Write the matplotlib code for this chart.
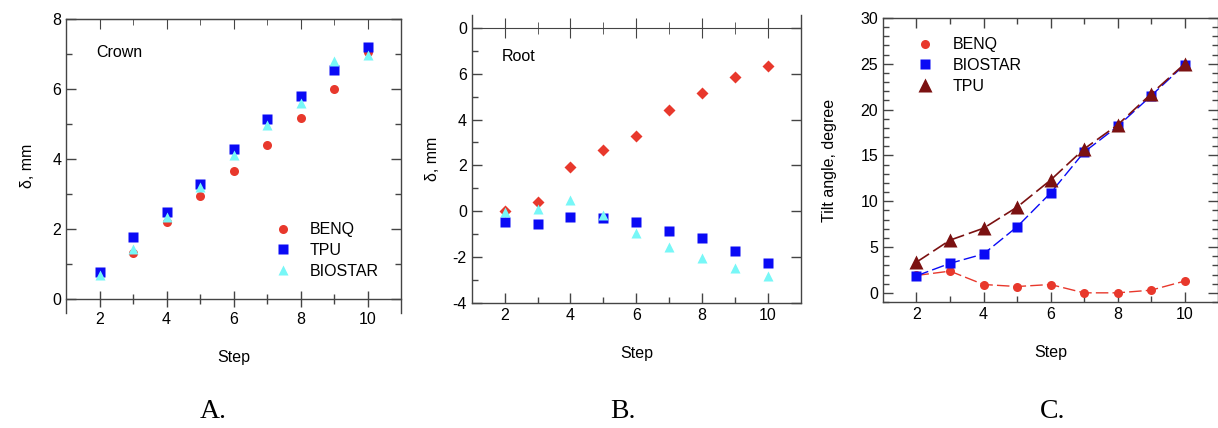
import matplotlib.pyplot as plt
import numpy as np
from matplotlib.ticker import MultipleLocator, FixedLocator

plt.rcParams['font.family'] = ['Liberation Sans', 'DejaVu Sans']

steps = [2, 3, 4, 5, 6, 7, 8, 9, 10]

# A. Crown
crown_benq = [0.72, 1.32, 2.18, 2.94, 3.65, 4.41, 5.17, 6.00, 7.05]
crown_tpu = [0.76, 1.75, 2.48, 3.29, 4.28, 5.13, 5.80, 6.53, 7.20]
crown_biostar = [0.69, 1.43, 2.34, 3.18, 4.12, 4.98, 5.61, 6.81, 6.97]

# B. Root
root_benq = [0.00, 0.42, 1.94, 2.66, 3.30, 4.44, 5.18, 5.84, 6.35]
root_tpu = [-0.47, -0.55, -0.26, -0.28, -0.48, -0.86, -1.19, -1.76, -2.26]
root_biostar = [-0.04, 0.10, 0.48, -0.17, -0.95, -1.56, -2.05, -2.47, -2.84]

# C. Tilt angle
tilt_benq = [1.90, 2.37, 0.91, 0.69, 0.91, 0.00, 0.00, 0.29, 1.28]
tilt_biostar = [1.86, 3.22, 4.24, 7.20, 10.89, 15.35, 18.16, 21.50, 24.90]
tilt_tpu = [3.35, 5.75, 7.05, 9.35, 12.30, 15.70, 18.32, 21.70, 24.98]

RED = '#e8382c'
BLUE = '#0a0af5'
CYAN = '#77f7f7'
DARK = '#7b1111'
SPINE = '#444444'
FS = 11.5

fig = plt.figure(figsize=(12.18, 4.28), dpi=100)
W, H = 1218, 428


def add_ax(l, t, r, b):
    return fig.add_axes([l / W, 1 - b / H, (r - l) / W, (b - t) / H])


def style(ax):
    for s in ax.spines.values():
        s.set_color(SPINE)
        s.set_linewidth(1.0)
    ax.tick_params(which='both', direction='in', top=True, right=True,
                   color=SPINE, labelsize=FS, width=1.0)
    ax.tick_params(which='major', length=7)
    ax.tick_params(which='minor', length=4)
    ax.set_xlim(1, 11)
    ax.xaxis.set_major_locator(FixedLocator([2, 4, 6, 8, 10]))
    ax.xaxis.set_minor_locator(FixedLocator([3, 5, 7, 9]))


# ---------- A ----------
axA = add_ax(66, 19, 401, 313)
style(axA)
axA.set_ylim(-0.41, 8)
axA.yaxis.set_major_locator(MultipleLocator(2))
axA.yaxis.set_minor_locator(FixedLocator([1, 3, 5, 7]))
axA.spines['bottom'].set_position(('data', 0))
axA.tick_params(axis='x', which='both', bottom=True, top=False, direction='inout')
axA.tick_params(axis='x', which='major', length=12)
axA.tick_params(axis='x', which='minor', length=7)
topA = axA.secondary_xaxis('top')
topA.xaxis.set_major_locator(FixedLocator([2, 4, 6, 8, 10]))
topA.xaxis.set_minor_locator(FixedLocator([3, 5, 7, 9]))
topA.tick_params(which='both', direction='in', labeltop=False, color=SPINE)
topA.tick_params(which='major', length=7)
topA.tick_params(which='minor', length=4)
topA.spines['top'].set_color(SPINE)
axA.plot(steps, crown_benq, 'o', color=RED, ms=6.5, mec='none', label='BENQ')
axA.plot(steps, crown_tpu, 's', color=BLUE, ms=7, mec='none', label='TPU')
axA.plot(steps, crown_biostar, '^', color=CYAN, ms=7.5, mec='none', label='BIOSTAR')
axA.text(0.09, 0.87, 'Crown', transform=axA.transAxes, fontsize=FS)
axA.set_ylabel('δ, mm', fontsize=FS, labelpad=12)
axA.set_xlabel('Step', fontsize=FS, labelpad=17)
axA.legend(loc='upper left', bbox_to_anchor=(0.58, 0.335), frameon=False,
           fontsize=FS, handletextpad=0.8, labelspacing=0.35,
           borderpad=0, handlelength=1.8)

# ---------- B ----------
axB = add_ax(471.7, 15, 801, 302.7)
style(axB)
axB.set_ylim(-4, 8.57)
axB.yaxis.set_major_locator(FixedLocator([-4, -2, 0, 2, 4, 6, 8]))
axB.set_yticklabels(['-4', '-2', '0', '2', '4', '6', '0'])
axB.yaxis.set_minor_locator(FixedLocator([-3, -1, 1, 3, 5, 7]))
axB.tick_params(axis='y', which='minor', right=False)
axB.tick_params(axis='x', which='both', top=False)
axB.spines['top'].set_visible(False)
topB = axB.secondary_xaxis(12.0 / 12.57)
topB.xaxis.set_major_locator(FixedLocator([2, 4, 6, 8, 10]))
topB.xaxis.set_minor_locator(FixedLocator([3, 5, 7, 9]))
topB.tick_params(which='both', direction='inout', labelbottom=False,
                 labeltop=False, color=SPINE)
topB.tick_params(which='major', length=14)
topB.tick_params(which='minor', length=8)
topB.spines['top'].set_color(SPINE)
topB.spines['bottom'].set_color(SPINE)
axB.plot(steps, root_benq, 'D', color=RED, ms=6.5, mec='none')
axB.plot(steps, root_tpu, 's', color=BLUE, ms=7, mec='none')
axB.plot(steps, root_biostar, '^', color=CYAN, ms=7.5, mec='none')
axB.text(0.09, 0.84, 'Root', transform=axB.transAxes, fontsize=FS)
axB.set_ylabel('δ, mm', fontsize=FS, labelpad=9)
axB.set_xlabel('Step', fontsize=FS, labelpad=17)

# ---------- C ----------
axC = add_ax(883, 18, 1218, 302)
style(axC)
axC.set_ylim(-1, 30)
axC.yaxis.set_major_locator(MultipleLocator(5))
axC.yaxis.set_minor_locator(MultipleLocator(1))
dash = (9, 3)
axC.plot(steps, tilt_benq, 'o', ls='--', dashes=dash, color=RED, lw=1,
         ms=6.5, mec='none', label='BENQ')
axC.plot(steps, tilt_biostar, 's', ls='--', dashes=dash, color=BLUE, lw=1,
         ms=7, mec='none', label='BIOSTAR')
axC.plot(steps, tilt_tpu, '^', ls='--', dashes=dash, color=DARK, lw=1.2,
         ms=10, mec='none', label='TPU')
axC.set_ylabel('Tilt angle, degree', fontsize=FS, labelpad=17)
axC.set_xlabel('Step', fontsize=FS, labelpad=17)
axC.legend(loc='upper left', bbox_to_anchor=(0.06, 0.96), frameon=False,
           fontsize=FS, handletextpad=0.8, labelspacing=0.35,
           borderpad=0, handlelength=1.8, numpoints=1)
for line in axC.get_legend().get_lines():
    line.set_linestyle('none')

# panel letters
for x, s in [(213, 'A.'), (623, 'B.'), (1053, 'C.')]:
    fig.text(x / W, 1 - 411 / H, s, fontsize=20, family='Liberation Serif',
             ha='center', va='center')

fig.savefig('out.png', dpi=100)
